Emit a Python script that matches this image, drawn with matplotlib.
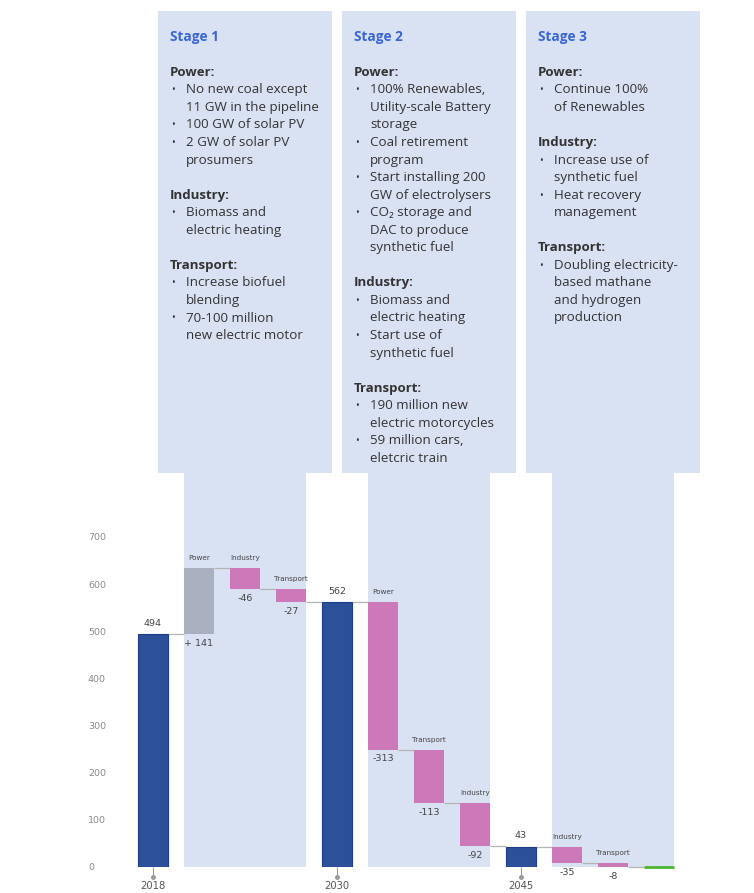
import matplotlib
matplotlib.use('Agg')
import matplotlib.pyplot as plt
import matplotlib.transforms as mtransforms
from matplotlib.patches import Rectangle

# --- data ---
years = ['2018', '2030', '2045']
totals = [494, 562, 43]
end_total = 0
stage_cats = [['Power', 'Industry', 'Transport'],
              ['Power', 'Transport', 'Industry'],
              ['Industry', 'Transport']]
stage_changes = [[141, -46, -27],
                 [-313, -113, -92],
                 [-35, -8]]
change_labels = [['+ 141', '-46', '-27'],
                 ['-313', '-113', '-92'],
                 ['-35', '-8']]
yticks = [0, 100, 200, 300, 400, 500, 600, 700]

stage_titles = ['Stage 1', 'Stage 2', 'Stage 3']
stage_notes = [
    [('Power:', ['No new coal except\n11 GW in the pipeline', '100 GW of solar PV',
                 '2 GW of solar PV\nprosumers']),
     ('Industry:', ['Biomass and\nelectric heating']),
     ('Transport:', ['Increase biofuel\nblending', '70-100 million\nnew electric motor'])],
    [('Power:', ['100% Renewables,\nUtility-scale Battery\nstorage', 'Coal retirement\nprogram',
                 'Start installing 200\nGW of electrolysers',
                 'CO\u2082 storage and\nDAC to produce\nsynthetic fuel']),
     ('Industry:', ['Biomass and\nelectric heating', 'Start use of\nsynthetic fuel']),
     ('Transport:', ['190 million new\nelectric motorcycles', '59 million cars,\neletcric train'])],
    [('Power:', ['Continue 100%\nof Renewables']),
     ('Industry:', ['Increase use of\nsynthetic fuel', 'Heat recovery\nmanagement']),
     ('Transport:', ['Doubling electricity-\nbased mathane\nand hydrogen\nproduction'])],
]

# --- colours ---
c_total = '#2c5198'
c_total_edge = '#1c3d8c'
c_up = '#a9b1c0'
c_down = '#cd78b8'
c_end = '#4cb531'
c_box = '#d9e2f3'
c_conn = '#b4b4b4'
c_title = '#3a66d4'
c_text = '#333333'

W, H = 754, 893
fig = plt.figure(figsize=(W / 100, H / 100), dpi=100)
fx = lambda p: p / W
fy = lambda p: 1 - p / H

slot = 46.0       # px per category
x0_px = 153.0     # px centre of first bar
scale = 330 / 700  # px per unit
bw = 0.65

ax = fig.add_axes([fx(88), fy(867), fx(700) - fx(88), fy(473) - fy(867)])
ax.set_xlim((88 - x0_px) / slot, (700 - x0_px) / slot)
ax.set_ylim(0, (867 - 473) / scale)
ax.patch.set_visible(False)
for s in ax.spines.values():
    s.set_visible(False)

lab_font = 'DejaVu Sans'

# walk through the waterfall
pos = 0
total_pos = []
steps = []   # (x, level_in, level_out)
stage_spans = []
for k in range(len(totals)):
    t = totals[k]
    ax.bar(pos, t, width=bw, color=c_total, edgecolor=c_total_edge, linewidth=0.8, zorder=3)
    ax.annotate(str(t), (pos, t), xytext=(0, 4.5), textcoords='offset points',
                ha='center', va='bottom', fontsize=6.8, color='#444444', family=lab_font)
    total_pos.append(pos)
    steps.append((pos, t, t))
    pos += 1
    level = t
    first = pos
    for cat, ch, lab in zip(stage_cats[k], stage_changes[k], change_labels[k]):
        new = level + ch
        ax.bar(pos, abs(ch), bottom=min(level, new), width=bw,
               color=c_up if ch > 0 else c_down, linewidth=0, zorder=3)
        ax.annotate(cat, (pos, max(level, new)), xytext=(0, 5), textcoords='offset points',
                    ha='center', va='bottom', fontsize=5.2, color='#444444', family=lab_font)
        ax.annotate(lab, (pos, min(level, new)), xytext=(0, -3.5), textcoords='offset points',
                    ha='center', va='top', fontsize=6.8, color='#444444', family=lab_font)
        steps.append((pos, level, new))
        level = new
        pos += 1
    last = pos - 1
    if k == len(totals) - 1:
        last = pos
    stage_spans.append((first, last))

# end marker
ax.hlines(end_total, pos - bw / 2, pos + bw / 2, color=c_end, lw=2, zorder=4, clip_on=False)
steps.append((pos, end_total, end_total))

# connectors
for (xa, _, out_a), (xb, _, _) in zip(steps[:-1], steps[1:]):
    ax.hlines(out_a, xa + bw / 2, xb - bw / 2, color=c_conn, lw=0.9, zorder=2, clip_on=False)

# stage shading + boxes
blend = mtransforms.blended_transform_factory(ax.transData, fig.transFigure)
for k, (a, b) in enumerate(stage_spans):
    ax.axvspan(a - bw / 2, b + bw / 2, color=c_box, lw=0, zorder=0)
    c = (a + b) / 2
    half = 87 / slot
    ax.add_patch(Rectangle((c - half, fy(473)), 2 * half, fy(11) - fy(473), transform=blend,
                           facecolor=c_box, edgecolor='none', clip_on=False, zorder=0))
    left_px = x0_px + slot * c - 87
    base0 = 40.7
    step = 17.55
    fig.text(fx(left_px + 12), fy(base0), stage_titles[k], fontsize=9.8, fontweight='bold',
             color=c_title, family=['Open Sans', 'DejaVu Sans'], va='baseline', ha='left')
    i = 2
    for head, bullets in stage_notes[k]:
        fig.text(fx(left_px + 12), fy(base0 + step * i), head, fontsize=9.5, fontweight='bold',
                 color=c_text, family=['Open Sans', 'DejaVu Sans'], va='baseline', ha='left')
        i += 1
        for bl in bullets:
            fig.text(fx(left_px + 13), fy(base0 + step * i), '\u2022', fontsize=7,
                     color=c_text, family=['Open Sans', 'DejaVu Sans'], va='baseline', ha='left')
            for line in bl.split('\n'):
                fig.text(fx(left_px + 28), fy(base0 + step * i), line, fontsize=9.6,
                         color=c_text, family=['Open Sans', 'DejaVu Sans'], va='baseline', ha='left')
                i += 1
        i += 1

# axes ticks
ax.set_yticks(yticks)
ax.tick_params(axis='y', length=0, pad=0, labelsize=6.8, labelcolor='#8a8a8a')
for t in ax.get_yticklabels():
    t.set_horizontalalignment('left')
    t.set_family(lab_font)
ax.set_xticks(total_pos, years)
ax.tick_params(axis='x', length=7, width=0.8, color='#999999', pad=3, labelsize=7.2,
               labelcolor='#555555')
for t in ax.get_xticklabels():
    t.set_family(lab_font)
ax.plot(total_pos, [-10 / scale] * len(total_pos), 'o', ms=2.5, color='#999999',
        clip_on=False, zorder=5)

fig.savefig('out.png', dpi=100)
